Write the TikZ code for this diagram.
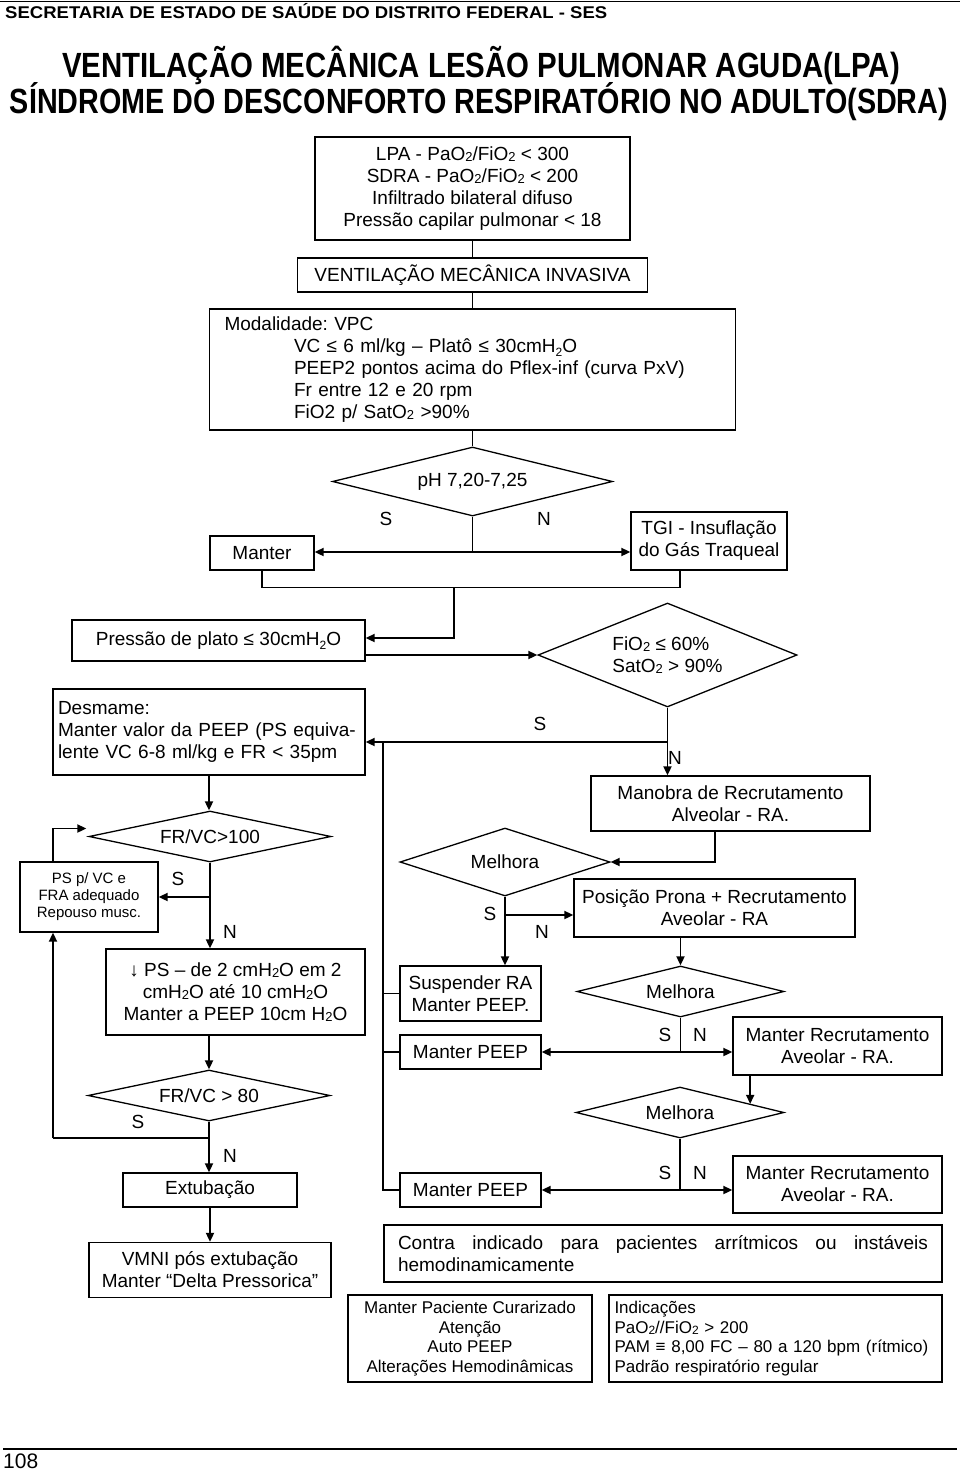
\documentclass[tikz,border=0pt]{standalone}
\usepackage{fontspec}
\setmainfont{Liberation Sans}
\usepackage{graphicx}
\usetikzlibrary{shapes.geometric,arrows.meta,calc}
\newcommand\fsbig{\fontsize{19}{22}\selectfont}
\newcommand\fsmid{\fontsize{17}{19.7}\selectfont}
\newcommand\fssml{\fontsize{15}{17}\selectfont}
\newcommand\dois{\raisebox{-1pt}{\fontsize{13}{13}\selectfont 2}}
\newcommand\doism{\raisebox{-1pt}{\fontsize{12}{12}\selectfont 2}}
\newcommand\subd{\raisebox{-4pt}{\fontsize{12}{12}\selectfont 2}}
\frenchspacing
\begin{document}
\begin{tikzpicture}[x=1pt,y=-1pt,
  box/.style={draw,line width=1.3pt,inner sep=0pt,align=center,font=\fsbig},
  dia/.style={draw,diamond,line width=1.3pt,inner sep=0pt,align=center,font=\fsbig},
  lbl/.style={inner sep=0pt,font=\fsbig},
  arr/.style={line width=1.8pt,-{Triangle[length=9pt,width=8pt]}},
  darr/.style={line width=1.8pt,{Triangle[length=9pt,width=8pt]}-{Triangle[length=9pt,width=8pt]}},
  tline/.style={line width=1.1pt},
  ttl/.style={inner sep=0pt,anchor=base}]
\useasboundingbox (0,0) rectangle (960,1473);

% header and titles
\draw[line width=1.2pt] (0,1.5) -- (960,1.5);
\node[ttl,anchor=base west] (hdr) at (5,18) {\resizebox{602pt}{\height}{\fontsize{17}{17}\selectfont\bfseries SECRETARIA DE ESTADO DE SAÚDE DO DISTRITO FEDERAL - SES}};
\node[ttl] (t1) at (481,77) {\resizebox{838pt}{\height}{\fontsize{35}{35}\selectfont\bfseries VENTILAÇÃO MECÂNICA LESÃO PULMONAR AGUDA(LPA)}};
\node[ttl] (t2) at (479,113) {\resizebox{938pt}{\height}{\fontsize{35}{35}\selectfont\bfseries SÍNDROME DO DESCONFORTO RESPIRATÓRIO NO ADULTO(SDRA)}};

% main column
\node[box,minimum width=315pt,minimum height=103pt] (A) at (472.5,188.5)
 {LPA - PaO\dois/FiO\dois{} < 300\\SDRA - PaO\dois/FiO\dois{} < 200\\Infiltrado bilateral difuso\\Pressão capilar pulmonar < 18};
\node[box,minimum width=350pt,minimum height=34pt] (B) at (472.5,275) {VENTILAÇÃO MECÂNICA INVASIVA};
\node[box,minimum width=526pt,minimum height=121pt,text width=496pt,align=left] (C) at (472.5,369.5)
 {Modalidade: VPC\\
  \hspace*{69.5pt}VC ≤ 6 ml/kg – Platô ≤ 30cmH\subd O\\
  \hspace*{69.5pt}PEEP2 pontos acima do Pflex-inf (curva PxV)\\
  \hspace*{69.5pt}Fr entre 12 e 20 rpm\\
  \hspace*{69.5pt}FiO2 p/ SatO\dois{} >90\%};
\node[dia,aspect=4.06,minimum width=280pt,minimum height=69pt] (D) at (472.5,481.5) {pH 7,20-7,25};
\node[lbl] (sD) at (386,519) {S};
\node[lbl] (nD) at (544,519) {N};
\node[box,minimum width=104pt,minimum height=34pt] (Mt) at (262,553) {Manter};
\node[box,minimum width=156pt,minimum height=58pt] (TGI) at (709,541) {TGI - Insuflação\\do Gás Traqueal};

\draw[tline] (A) -- (B);
\draw[tline] (B) -- (C);
\draw[tline] (C.south) -- (D.north);
\coordinate (J1) at (472.5,552);
\draw[tline] (D.south) -- (J1);
\draw[darr] (J1 -| Mt.east) -- (J1 -| TGI.west);
\coordinate (J2) at (454,587);
\draw[tline] (Mt.south) |- ($(TGI.south)+(-29,17)$) -- ($(TGI.south)+(-29,0)$);

% pressure / FiO2
\node[box,minimum width=293pt,minimum height=41pt] (P) at (218.5,640.5) {Pressão de plato ≤ 30cmH\subd O};
\node[dia,aspect=2.49,minimum width=259pt,minimum height=104pt,align=left] (F) at (667.5,655) {FiO\dois{} ≤ 60\%\\SatO\dois{} > 90\%};
\draw[arr] (J2) |- ([yshift=2.5pt]P.east);
\draw[arr] ([yshift=-14.5pt]P.east) -- (F.west);

\node[box,minimum width=312pt,minimum height=86pt,text width=302pt,align=left] (Des) at (209,732)
 {Desmame:\\Manter valor da PEEP (PS equiva-\\lente VC 6-8 ml/kg e FR < 35pm};
\node[box,minimum width=279pt,minimum height=55pt] (M) at (730.5,803.5) {Manobra de Recrutamento\\Alveolar - RA.};
\coordinate (J3) at (667.5,742);
\draw[arr] (F.south) -- (F.south |- M.north);
\draw[arr] (J3) -- (J3 -| Des.east);
\node[lbl] (sF) at (540,724) {S};
\node[lbl] (nF) at (675,758) {N};

% right recruitment branch
\node[dia,aspect=3.09,minimum width=210pt,minimum height=68pt] (Mel1) at (505,862) {Melhora};
\node[box,minimum width=281pt,minimum height=58pt] (Pos) at (714.5,908) {Posição Prona + Recrutamento\\Aveolar - RA};
\draw[arr] ([xshift=-15.5pt]M.south) |- (Mel1.east);
\node[box,minimum width=141pt,minimum height=55pt] (Susp) at (470.5,993.5) {Suspender RA\\Manter PEEP.};
\draw[arr] (Mel1.south) -- (Mel1.south |- Susp.north);
\coordinate (J4) at (505,915);
\draw[arr] (J4) -- (J4 -| Pos.west);
\node[lbl] (sM1) at (490,914) {S};
\node[lbl] (nM1) at (542,932) {N};

\node[dia,aspect=4.06,minimum width=207pt,minimum height=51pt] (Mel2) at (680.5,991.5) {Melhora};
\draw[arr] (Mel2.north |- Pos.south) -- (Mel2.north);
\node[box,minimum width=141pt,minimum height=34pt] (PE1) at (470.5,1052) {Manter PEEP};
\node[box,minimum width=209pt,minimum height=58pt] (Rec1) at (837.5,1046) {Manter Recrutamento\\Aveolar - RA.};
\coordinate (J5) at (680.5,1052);
\draw[tline] (Mel2.south) -- (J5);
\draw[darr] (J5 -| PE1.east) -- (J5 -| Rec1.west);
\node[lbl] (sM2) at (665,1035) {S};
\node[lbl] (nM2) at (700,1035) {N};

\node[dia,aspect=4.08,minimum width=208pt,minimum height=51pt] (Mel3) at (680,1112.5) {Melhora};
\draw[arr] (Mel3.7 |- Rec1.south) -- (Mel3.7);
\node[box,minimum width=141pt,minimum height=34pt] (PE2) at (470.5,1190) {Manter PEEP};
\node[box,minimum width=209pt,minimum height=57pt] (Rec2) at (837.5,1184.5) {Manter Recrutamento\\Aveolar - RA.};
\coordinate (J6) at (680,1190);
\draw[tline] (Mel3.south) -- (J6);
\draw[darr] (J6 -| PE2.east) -- (J6 -| Rec2.west);
\node[lbl] (sM3) at (665,1173) {S};
\node[lbl] (nM3) at (700,1173) {N};

% trunk back to Desmame
\coordinate (T0) at (383,742);
\draw[tline] (T0) |- (PE2.west);
\draw[tline] (Susp.west) -- (Susp.west -| T0);
\draw[tline] (PE1.west) -- (PE1.west -| T0);

% bottom notes
\node[box,minimum width=558pt,minimum height=57pt,text width=530pt,align=justify] (Ctr) at (663,1253.5)
 {Contra indicado para pacientes arrítmicos ou instáveis\linebreak hemodinamicamente};
\node[box,font=\fsmid,minimum width=244pt,minimum height=87pt] (Cur) at (470,1338.5)
 {Manter Paciente Curarizado\\Atenção\\Auto PEEP\\Alterações Hemodinâmicas};
\node[box,font=\fsmid,minimum width=333pt,minimum height=87pt,text width=322pt,align=left] (Ind) at (775.5,1338.5)
 {Indicações\\PaO\doism//FiO\doism{} > 200\\PAM ≡ 8,00 FC – 80 a 120 bpm (rítmico)\\Padrão respiratório regular};

% left column (weaning)
\node[dia,aspect=4.75,minimum width=242pt,minimum height=51pt] (FR1) at (210,836.5) {FR/VC>100};
\draw[arr] (Des.south) -- (Des.south |- FR1.north);
\node[box,font=\fssml,minimum width=138pt,minimum height=70pt] (PS) at (89,897) {PS p/ VC e\\FRA adequado\\Repouso musc.};
\node[box,minimum width=259pt,minimum height=86pt] (DPS) at (235.5,992)
 {↓ PS – de 2 cmH\dois O em 2\\cmH\dois O até 10 cmH\dois O\\Manter a PEEP 10cm H\dois O};
\coordinate (J7) at (210,897);
\draw[arr] (FR1.south) -- (FR1.south |- DPS.north);
\draw[arr] (J7) -- (J7 -| PS.east);
\draw[arr] ([xshift=-36pt]PS.north) |- ([shift={(-2pt,8pt)}]FR1.west);
\node[lbl] (sFR1) at (178,879) {S};
\node[lbl] (nFR1) at (230,932) {N};

\node[dia,aspect=4.75,minimum width=242pt,minimum height=51pt] (FR2) at (209,1095.5) {FR/VC > 80};
\draw[arr] (FR2.north |- DPS.south) -- (FR2.north);
\node[box,minimum width=174pt,minimum height=34pt] (Ext) at (210,1190) {Extubação};
\node[box,minimum width=242pt,minimum height=55pt] (VM) at (210,1270) {VMNI pós extubação\\Manter “Delta Pressorica”};
\coordinate (J8) at (209,1138);
\coordinate (L1) at (53,1138);
\draw[arr] (FR2.south) -- (FR2.south |- Ext.north);
\draw[tline] (J8) -- (L1);
\draw[arr] (L1) -- (L1 |- PS.south);
\draw[arr] (Ext) -- (VM);
\node[lbl] (sFR2) at (138,1122) {S};
\node[lbl] (nFR2) at (230,1156) {N};

% footer
\draw[line width=1.2pt] (3,1449) -- (957,1449);
\node[ttl,anchor=base west] (pg) at (3,1468) {\fontsize{21}{21}\selectfont 108};
\end{tikzpicture}
\end{document}
